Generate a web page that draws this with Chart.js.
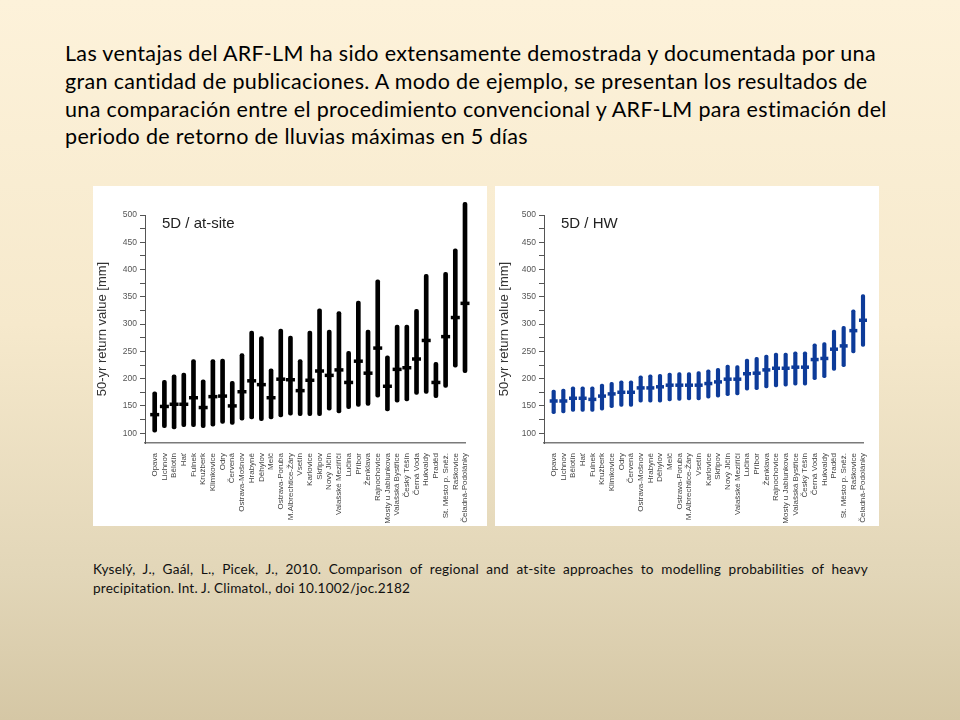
<!DOCTYPE html>
<html>
<head>
<meta charset="utf-8">
<script src="https://cdn.jsdelivr.net/npm/chart.js@4/dist/chart.umd.min.js"></script>
<style>
  body { margin: 0; }
  #slide {
    position: relative; width: 960px; height: 720px; overflow: hidden;
    background: linear-gradient(to bottom, #fdf2da 0%, #f6e9cc 45%, #e2d6b8 80%, #d5c7a5 100%);
    font-family: Lato, "Open Sans", sans-serif;
  }
  #intro {
    position: absolute; left: 65px; top: 40px; width: 880px; white-space: nowrap;
    font-size: 21.5px; letter-spacing: 0.33px; line-height: 27.8px; color: #000;
  }
  .panel { position: absolute; top: 186px; height: 340px; background: #fff; }
  .panel canvas { position: absolute; left: 0; top: 0; }
  .tag { position: absolute; font-family: "Liberation Sans", Arial, sans-serif; font-size: 15px; color: #222; }
  #cite {
    position: absolute; left: 93px; top: 560px; width: 775px;
    font-size: 13.6px; letter-spacing: 0.2px; line-height: 19px; color: #111;
  }
  #cite .l1 { text-align: justify; text-align-last: justify; }
</style>
</head>
<body>
<div id="slide">
  <div id="intro">Las ventajas del ARF-LM ha sido extensamente demostrada y documentada por una<br>gran cantidad de publicaciones. A modo de ejemplo, se presentan los resultados de<br>una comparación entre el procedimiento convencional y ARF-LM para estimación del<br>periodo de retorno de lluvias máximas en 5 días</div>

  <div class="panel" style="left:93px;width:394px;">
    <canvas id="atsite" width="394" height="340"></canvas>
    <div class="tag" style="left:69px;top:28px;">5D / at-site</div>
  </div>
  <div class="panel" style="left:495px;width:384px;">
    <canvas id="hw" width="384" height="340"></canvas>
    <div class="tag" style="left:66px;top:28px;">5D / HW</div>
  </div>

  <div id="cite"><div class="l1">Kyselý, J., Gaál, L., Picek, J., 2010. Comparison of regional and at-site approaches to modelling probabilities of heavy</div><div>precipitation. Int. J. Climatol., doi 10.1002/joc.2182</div></div>
</div>

<script>
// stations on the x axis (same order in both panels)
const stations = ['Opava', 'Lichnov', 'Bělotín', 'Hať', 'Fulnek', 'Kružberk', 'Klimkovice', 'Odry',
  'Červená', 'Ostrava-Mošnov', 'Hrabyně', 'Děhylov', 'Melč', 'Ostrava-Poruba', 'M.Albrechtice-Žáry',
  'Vsetín', 'Karlovice', 'Skřipov', 'Nový Jičín', 'Valašské Meziříčí', 'Lučina', 'Příbor', 'Ženklava',
  'Rajnochovice', 'Mosty u Jablunkova', 'Valašská Bystřice', 'Český Těšín', 'Černá Voda', 'Hukvaldy',
  'Praděd', 'St. Město p. Sněž.', 'Raškovice', 'Čeladná-Podolánky']

// 5D / at-site : 50-yr return value, median and interval
const siteMid = [134, 149, 153, 153, 165, 147, 167, 168, 150, 176, 196, 189, 165, 199, 198,
  178, 197, 214, 206, 216, 193, 232, 210, 256, 186, 217, 220, 236, 270, 193, 277, 312, 338]
const siteLow = [102, 110, 108, 112, 112, 110, 113, 118, 116, 124, 126, 123, 126, 130, 133,
  132, 132, 132, 142, 137, 145, 149, 151, 166, 141, 157, 159, 171, 173, 165, 184, 221, 211]
const siteHigh = [176, 197, 207, 210, 235, 198, 235, 236, 195, 246, 287, 277, 218, 291, 278,
  235, 287, 328, 289, 323, 250, 342, 289, 381, 242, 298, 298, 327, 391, 230, 395, 438, 523]

// 5D / HW : regional estimate
const hwMid = [159, 159, 164, 164, 162, 168, 172, 175, 175, 183, 183, 185, 188, 188, 188,
  188, 191, 194, 199, 199, 209, 210, 216, 219, 219, 221, 221, 235, 237, 254, 260, 288, 307]
const hwLow = [136, 137, 140, 140, 140, 142, 147, 149, 149, 157, 157, 157, 159, 160, 161,
  161, 164, 166, 169, 170, 179, 180, 183, 185, 186, 188, 188, 198, 202, 215, 222, 247, 259]
const hwHigh = [179, 181, 185, 185, 185, 190, 193, 196, 196, 205, 207, 208, 210, 211, 211,
  213, 216, 219, 225, 224, 236, 239, 243, 247, 247, 249, 249, 264, 266, 289, 296, 326, 354]

const yTicks = [100, 150, 200, 250, 300, 350, 400, 450, 500]

function makeChart(id, low, high, mid, color, leftW, rightPad, barW) {
  const labels = [''].concat(stations)
  const ranges = [null].concat(low.map((v, i) => [v, high[i]]))
  const medians = [null].concat(mid)
  return new Chart(document.getElementById(id), {
    data: {
      labels: labels,
      datasets: [{
        type: 'bar',
        data: ranges,
        backgroundColor: color,
        barThickness: barW,
        borderRadius: 2,
        borderSkipped: false,
        clip: false
      }, {
        type: 'line',
        data: medians,
        showLine: false,
        pointStyle: 'line',
        pointRadius: barW + 0.5,
        pointBorderWidth: 3.5,
        pointBorderColor: color,
        pointHoverRadius: barW + 0.5,
        clip: false
      }]
    },
    options: {
      responsive: false,
      animation: false,
      events: [],
      layout: { padding: { top: 29, right: rightPad, left: 0, bottom: 0 } },
      plugins: { legend: { display: false }, tooltip: { enabled: false } },
      scales: {
        x: {
          offset: false,
          afterFit: s => { s.height = 83 },
          grid: { display: false },
          border: { color: '#7a7a7a', width: 1.5 },
          ticks: {
            autoSkip: false, maxRotation: 90, minRotation: 90, padding: 2,
            color: '#444', font: { family: 'Liberation Sans', size: 8 }
          }
        },
        y: {
          min: 82, max: 500,
          afterFit: s => { s.width = leftW },
          afterBuildTicks: s => {
            const t = []
            for (let v = 100; v <= 500; v += 25) t.push({ value: v })
            s.ticks = t
          },
          border: { color: '#555', width: 1 },
          grid: { drawOnChartArea: false, tickLength: 5, color: '#555' },
          title: {
            display: true, text: '50-yr return value [mm]', padding: { top: 2, bottom: 0 },
            color: '#333', font: { family: 'Liberation Sans', size: 13 }
          },
          ticks: {
            padding: 3, color: '#555', font: { family: 'Liberation Sans', size: 8.5 },
            callback: v => yTicks.includes(v) ? v : ''
          }
        }
      }
    }
  })
}

const chartSite = makeChart('atsite', siteLow, siteHigh, siteMid, '#000000', 52, 22, 4)
const chartHw = makeChart('hw', hwLow, hwHigh, hwMid, '#0d3b99', 49, 16, 3.5)
</script>
</body>
</html>
